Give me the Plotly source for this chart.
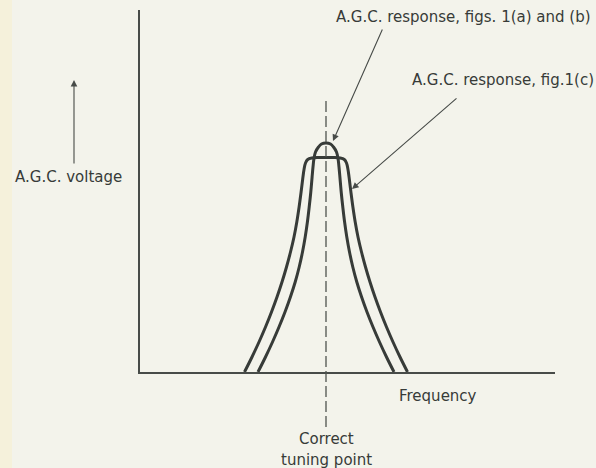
import plotly.graph_objects as go

# Frequency axis runs 0..415, voltage axis 0..362 (arbitrary units).
F_TUNED = 186.0  # correct tuning point on the frequency axis

# A.G.C. response, figs. 1(a) and (b): sharp single peak
freq_ab = [-68, -60.5, -53.5, -47, -41, -35.6, -30.8, -26.8, -23.5, -20.8, -18.6, -16.8,
           -15.2, -13.9, -13, -12.1, -10.5, -7.5, -4.5, 0,
           4.5, 7.5, 10.5, 12.1, 13, 13.9, 15.2, 16.8, 18.6, 20.8, 23.5, 26.8, 30.8,
           35.6, 41, 47, 53.5, 60.5, 68]
volt_ab = [0, 15, 30, 45, 60, 75, 90, 105, 120, 135, 150, 165,
           180, 195, 205, 213, 220, 225, 228, 229,
           228, 225, 220, 213, 205, 195, 180, 165, 150, 135, 120, 105, 90,
           75, 60, 45, 30, 15, 0]

# A.G.C. response, fig. 1(c): broader, flat-topped
freq_c = [-81.5, -74, -67, -60.5, -54.5, -49, -44, -39.5, -35.5, -32, -29.2, -26.9,
          -24.9, -23.3, -21.9, -20.5, -18.3, -14, -8, 0,
          8, 14, 18.3, 20.5, 21.9, 23.3, 24.9, 26.9, 29.2, 32, 35.5, 39.5, 44,
          49, 54.5, 60.5, 67, 74, 81.5]
volt_c = [0, 15, 30, 45, 60, 75, 90, 105, 120, 135, 150, 165,
          180, 193, 203, 209, 212.5, 214, 214.5, 214.5,
          214.5, 214, 212.5, 209, 203, 193, 180, 165, 150, 135, 120, 105, 90,
          75, 60, 45, 30, 15, 0]

X_RANGE = [0, 415]
Y_RANGE = [0, 362]

INK = "#373b38"
BG = "#f3f3eb"
FONT = "DejaVu Sans"


def px(x):
    return (x - X_RANGE[0]) / (X_RANGE[1] - X_RANGE[0])


def py(y):
    return (y - Y_RANGE[0]) / (Y_RANGE[1] - Y_RANGE[0])


fig = go.Figure()

for offs, volts in [(freq_c, volt_c), (freq_ab, volt_ab)]:
    fig.add_trace(go.Scatter(
        x=[F_TUNED + f for f in offs], y=volts, mode="lines",
        line=dict(color=INK, width=3, shape="spline", smoothing=1.0),
        hoverinfo="skip", showlegend=False,
    ))

# slightly yellowed left margin of the page
fig.add_shape(type="rect", xref="paper", yref="paper", layer="below",
              x0=px(-140), x1=px(-128), y0=py(-96), y1=py(372),
              fillcolor="rgba(248,238,190,0.35)", line=dict(width=0))

# dashed line through the correct tuning point
fig.add_shape(type="line", xref="paper", yref="paper",
              x0=px(F_TUNED), x1=px(F_TUNED), y0=py(-55), y1=py(272),
              line=dict(color="#4f534f", width=1.3, dash="11px,4px"))

texts = [
    dict(text="A.G.C. response, figs. 1(a) and (b)", x=194, y=355, xanchor="left"),
    dict(text="A.G.C. response, fig.1(c)", x=270, y=292, xanchor="left"),
    dict(text="A.G.C. voltage", x=-72, y=195, xanchor="center"),
    dict(text="Frequency", x=257, y=-24, xanchor="left"),
    dict(text="Correct", x=F_TUNED, y=-67, xanchor="center"),
    dict(text="tuning point", x=F_TUNED, y=-88, xanchor="center"),
]
for t in texts:
    fig.add_annotation(xref="paper", yref="paper", showarrow=False,
                       x=px(t["x"]), y=py(t["y"]), text=t["text"],
                       xanchor=t["xanchor"], yanchor="middle",
                       font=dict(family=FONT, size=15, color=INK))

arrows = [
    dict(x=193, y=231, ax=243, ay=344),   # to peak of figs. 1(a),(b) curve
    dict(x=212, y=183, ax=318, ay=275),   # to flank of fig. 1(c) curve
    dict(x=-66, y=292, ax=-66, ay=207),   # voltage direction arrow
]
for a in arrows:
    fig.add_annotation(xref="paper", yref="paper", axref="pixel", ayref="pixel",
                       x=px(a["x"]), y=py(a["y"]),
                       ax=(a["ax"] - a["x"]), ay=-(a["ay"] - a["y"]),
                       text="", showarrow=True, arrowhead=2, arrowsize=1.2,
                       arrowwidth=1.1, arrowcolor="#474b48")

fig.update_xaxes(range=X_RANGE, showline=True, linecolor="#474b48", linewidth=1.5,
                 showgrid=False, zeroline=False, showticklabels=False, ticks="")
fig.update_yaxes(range=Y_RANGE, showline=True, linecolor="#474b48", linewidth=1.5,
                 showgrid=False, zeroline=False, showticklabels=False, ticks="")

fig.update_layout(
    width=596, height=468,
    margin=dict(l=140, r=41, t=10, b=96),
    paper_bgcolor=BG, plot_bgcolor=BG,
    showlegend=False,
)

fig.write_html("out.html")
